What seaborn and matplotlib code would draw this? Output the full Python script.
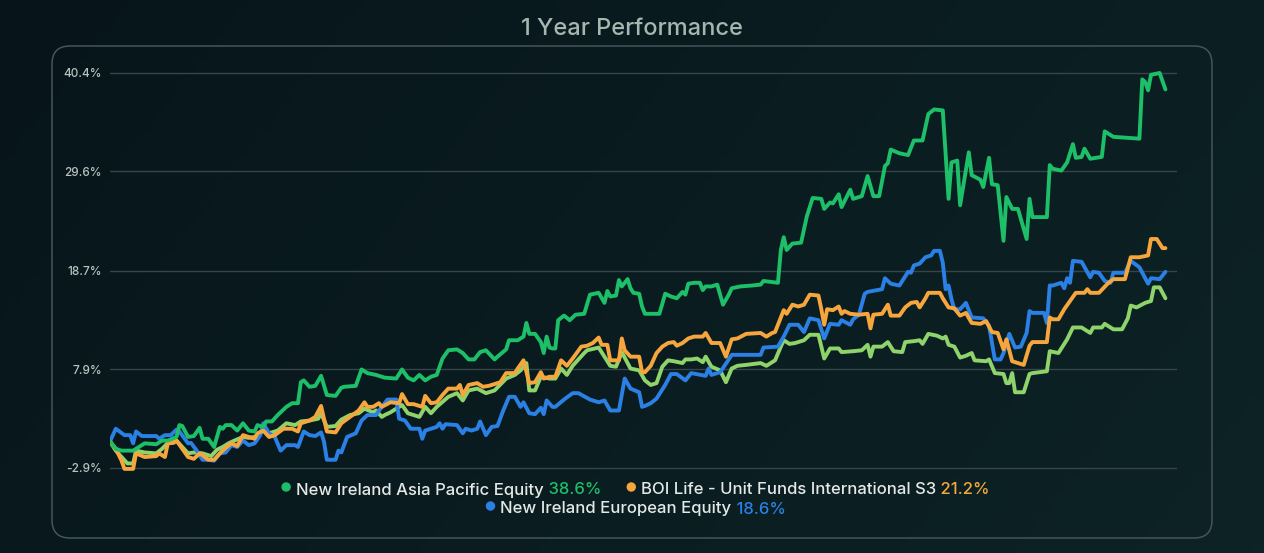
import matplotlib
matplotlib.use("Agg")
import matplotlib.pyplot as plt
from matplotlib.patches import FancyBboxPatch, Circle
from matplotlib.colors import LinearSegmentedColormap
import numpy as np
import pandas as pd
import seaborn as sns

# (calendar day, % return)
asia_pacific = [(0,0.0),(2,-0.8),(4,-1.0),(8,-1.0),(10,-0.6),(12,-0.2),(16,-0.3),(18,0.1),(20,0.1),(23,0.5),(24,1.8),(25,1.7),(27,0.5),(29,0.6),(31,1.5),(32,0.3),(34,0.3),(36,-0.6),(38,1.6),(39,1.4),(40,1.8),(42,1.8),(44,1.2),(46,2.0),(48,1.2),(50,1.1),(51,1.8),(53,1.6),(54,2.2),(56,2.2),(58,2.9),(61,3.8),(63,4.2),(65,4.2),(66,6.5),(67,6.7),(69,6.0),(71,6.1),(73,7.2),(75,5.1),(78,5.0),(80,5.9),(81,6.0),(85,6.1),(87,7.9),(89,7.5),(92,7.3),(95,7.0),(99,6.9),(101,7.9),(103,7.0),(105,6.7),(107,7.3),(109,6.7),(111,7.1),(113,7.3),(115,9.1),(117,10.0),(120,10.1),(122,9.7),(124,9.0),(126,9.0),(128,9.8),(130,10.0),(133,9.0),(134,9.3),(137,10.1),(138,11.1),(141,11.1),(143,11.5),(144,13.0),(145,11.8),(147,11.8),(149,10.9),(150,9.7),(151,11.5),(152,10.3),(153,10.2),(154,10.2),(155,13.3),(157,13.8),(159,13.3),(161,13.9),(164,14.0),(166,16.1),(169,16.3),(171,15.2),(172,16.5),(173,15.9),(175,16.0),(176,17.7),(177,17.0),(179,17.8),(180,16.8),(181,16.3),(183,16.2),(184,14.8),(185,14.0),(187,14.0),(190,14.0),(192,16.2),(194,15.9),(196,15.7),(198,16.4),(199,16.1),(200,17.3),(202,17.4),(204,17.4),(205,16.6),(206,17.0),(208,17.0),(210,17.2),(212,15.0),(214,16.1),(215,16.8),(218,17.0),(222,17.1),(225,17.2),(226,17.6),(231,17.4),(232,21.0),(233,22.4),(234,21.0),(236,21.7),(239,21.8),(241,24.7),(243,26.7),(246,26.6),(247,25.5),(249,26.2),(250,26.1),(252,27.1),(253,25.7),(256,27.6),(257,26.6),(260,26.9),(262,29.1),(264,26.9),(266,26.9),(268,30.2),(269,30.5),(270,32.0),(273,31.6),(276,31.4),(278,33.0),(281,33.0),(283,35.9),(285,36.4),(288,36.3),(290,26.6),(291,30.6),(293,30.8),(294,25.9),(297,31.7),(298,29.2),(301,28.7),(302,27.9),(304,31.1),(305,28.2),(307,28.1),(309,22.0),(310,26.8),(312,25.5),(314,25.5),(317,22.2),(318,26.6),(319,24.6),(324,24.6),(325,30.3),(326,29.9),(329,29.7),(331,30.6),(333,32.6),(334,31.1),(336,31.2),(337,32.1),(339,31.0),(343,31.2),(344,34.0),(347,33.4),(356,33.2),(357,39.7),(358,39.4),(359,38.5),(360,40.2),(363,40.4),(365,38.6)]

boi_international = [(0,0.0),(2,-0.8),(4,-2.1),(5,-3.0),(8,-3.0),(9,-1.3),(12,-1.7),(16,-1.6),(17,-1.3),(19,-1.7),(20,-0.2),(22,-0.15),(23,0.1),(25,-0.8),(27,-1.7),(29,-1.9),(31,-1.3),(32,-1.5),(34,-2.0),(36,-2.0),(38,-1.3),(40,-0.7),(42,-0.2),(44,-0.5),(46,0.7),(48,0.5),(50,0.3),(51,0.9),(53,1.2),(55,0.5),(57,0.7),(60,1.4),(63,1.4),(65,1.1),(66,2.0),(69,2.3),(71,2.7),(73,3.9),(75,1.1),(78,1.0),(80,2.0),(83,2.7),(86,3.4),(88,4.3),(89,3.8),(91,3.8),(93,4.2),(94,3.8),(97,4.3),(100,4.2),(101,5.2),(103,4.1),(105,4.1),(108,3.8),(109,5.0),(111,4.2),(113,4.3),(115,5.1),(117,5.8),(120,5.8),(121,6.2),(122,5.1),(124,6.2),(127,6.4),(129,6.0),(131,6.1),(135,6.5),(137,7.5),(140,7.5),(141,8.0),(143,8.9),(145,6.4),(147,6.5),(149,7.6),(150,6.9),(152,7.1),(154,7.1),(156,8.9),(158,8.3),(160,9.1),(163,10.4),(165,10.5),(167,10.8),(169,11.4),(170,10.6),(172,10.6),(173,8.9),(176,8.9),(177,11.3),(178,10.0),(180,9.3),(183,9.3),(184,7.6),(185,7.6),(187,8.3),(189,9.7),(191,10.4),(193,10.8),(195,10.9),(196,10.5),(198,10.8),(200,11.3),(202,11.5),(205,11.5),(206,11.9),(208,10.8),(211,10.8),(213,9.3),(215,11.2),(217,11.3),(220,11.8),(225,11.9),(227,11.5),(229,11.9),(230,12.0),(233,14.4),(234,14.0),(236,15.0),(238,14.8),(240,15.0),(242,16.1),(245,16.0),(246,14.5),(247,12.8),(248,14.5),(250,14.4),(252,14.8),(253,14.0),(254,14.3),(256,14.0),(259,13.9),(262,14.0),(263,12.4),(264,13.9),(267,14.0),(269,15.0),(270,13.8),(273,13.8),(275,14.7),(277,15.2),(279,15.3),(280,14.7),(282,15.7),(283,16.3),(287,16.3),(288,15.7),(290,14.7),(292,14.6),(294,13.8),(296,14.1),(298,13.0),(301,12.9),(303,13.2),(305,12.0),(307,11.9),(309,10.1),(310,11.2),(312,8.8),(314,8.6),(316,8.4),(318,10.5),(319,10.9),(324,10.9),(325,13.6),(326,13.4),(328,13.4),(330,14.5),(334,16.3),(337,16.3),(338,16.7),(339,16.3),(342,16.3),(345,17.3),(347,17.8),(351,17.8),(353,20.2),(356,20.2),(359,20.4),(360,22.2),(362,22.2),(364,21.2),(365,21.2)]

european = [(0,0.0),(2,1.4),(5,0.7),(7,0.7),(8,-0.2),(9,1.1),(11,0.6),(16,0.6),(17,0.3),(19,0.7),(21,0.7),(23,1.3),(24,1.1),(27,-0.2),(28,-0.15),(30,-1.0),(32,-2.0),(34,-2.0),(36,-2.1),(38,-1.3),(40,-1.2),(42,-0.4),(44,-0.6),(46,0.1),(48,-0.4),(50,-0.2),(52,0.7),(53,2.0),(55,0.9),(57,0.5),(59,-1.0),(61,-0.4),(64,-0.4),(65,-0.6),(67,1.1),(69,0.7),(71,0.6),(73,1.0),(74,0.0),(75,-2.0),(78,-2.0),(79,-1.0),(80,-1.2),(82,0.5),(85,0.9),(87,2.3),(89,2.9),(92,2.9),(93,3.4),(94,3.8),(96,4.6),(99,4.6),(100,2.5),(102,2.3),(104,1.4),(107,1.4),(108,0.3),(109,1.2),(111,1.4),(113,1.6),(114,2.0),(115,1.4),(116,1.9),(120,1.8),(122,0.9),(123,1.4),(125,1.2),(127,1.4),(128,2.2),(130,0.7),(132,1.6),(134,1.7),(136,3.4),(138,4.9),(140,4.9),(142,3.8),(143,4.3),(145,3.1),(147,3.0),(149,3.7),(150,3.0),(151,4.5),(153,3.8),(154,3.8),(157,4.6),(160,5.3),(162,5.3),(166,4.6),(169,4.3),(171,4.5),(173,3.4),(176,3.4),(178,6.9),(180,5.8),(183,5.4),(184,3.8),(185,3.9),(187,4.2),(189,4.7),(192,6.2),(194,7.4),(196,7.4),(199,6.7),(201,7.5),(206,7.2),(207,8.0),(208,7.3),(211,7.6),(214,9.0),(215,9.5),(218,9.5),(225,9.5),(226,10.3),(231,10.4),(233,11.5),(235,12.8),(238,12.8),(240,12.0),(242,13.5),(245,13.3),(247,11.3),(249,12.9),(252,12.8),(253,13.3),(256,12.8),(257,13.4),(259,13.9),(261,16.2),(262,16.4),(267,16.7),(268,17.9),(270,17.3),(273,17.1),(276,18.6),(277,18.5),(278,19.3),(280,19.5),(282,20.2),(284,20.4),(285,20.9),(287,20.9),(288,19.6),(289,16.7),(290,17.1),(291,15.6),(292,14.5),(294,14.5),(296,15.2),(298,13.6),(302,13.5),(304,12.7),(306,9.0),(308,9.0),(309,9.7),(311,11.8),(313,10.3),(315,10.4),(317,11.9),(318,14.3),(319,14.1),(323,14.1),(324,13.0),(325,17.1),(326,17.1),(329,17.4),(330,16.8),(331,17.9),(332,17.4),(333,19.8),(336,19.7),(339,18.0),(340,18.6),(342,18.5),(344,17.6),(346,17.4),(347,18.5),(351,18.5),(353,19.8),(356,19.1),(357,18.5),(359,17.3),(360,17.9),(363,17.8),(365,18.6)]

# light green line, not in the legend
benchmark = [(0,0.0),(2,-1.0),(4,-1.7),(6,-2.4),(8,-2.4),(9,-1.0),(12,-1.2),(16,-1.3),(18,-0.8),(20,-0.15),(23,0.1),(25,-0.6),(27,-1.3),(29,-1.2),(32,-1.3),(35,-1.6),(37,-0.9),(39,-0.6),(41,-0.2),(43,0.1),(46,0.5),(48,0.4),(50,0.5),(53,1.2),(55,0.9),(58,1.2),(61,2.0),(64,1.8),(66,2.2),(69,2.3),(72,2.5),(73,3.1),(75,1.6),(78,1.7),(80,2.4),(83,2.9),(86,3.1),(88,3.6),(91,3.2),(92,3.4),(94,2.7),(95,2.9),(97,3.2),(101,4.0),(103,3.1),(107,2.7),(109,3.8),(111,3.1),(113,3.8),(117,4.9),(120,5.3),(122,4.5),(124,5.6),(127,5.8),(130,5.3),(133,5.6),(137,6.9),(140,7.3),(142,7.8),(144,8.6),(145,5.6),(147,5.6),(149,7.1),(152,6.9),(154,6.9),(156,8.0),(158,7.3),(160,8.3),(164,9.7),(165,10.0),(169,10.3),(171,9.3),(173,8.3),(175,8.2),(177,9.8),(180,8.0),(183,7.8),(185,6.7),(187,6.2),(189,6.4),(191,8.2),(193,8.9),(195,8.8),(198,8.6),(199,9.0),(201,9.0),(203,9.1),(205,8.7),(206,9.3),(208,8.2),(211,7.8),(213,6.5),(215,8.0),(217,8.3),(220,8.4),(225,8.6),(227,8.3),(230,8.9),(232,10.4),(233,11.1),(235,10.7),(237,10.8),(240,11.1),(242,11.7),(245,11.7),(247,9.1),(249,10.2),(252,10.2),(253,9.8),(257,9.9),(260,10.0),(262,10.6),(263,9.3),(264,10.4),(267,10.4),(269,10.9),(271,9.9),(274,9.8),(275,10.9),(278,11.0),(280,11.1),(281,10.7),(283,11.8),(286,11.6),(288,11.3),(289,11.5),(290,10.6),(292,10.4),(294,9.2),(296,9.4),(298,9.7),(299,8.9),(303,8.8),(304,9.0),(306,7.5),(309,7.4),(310,6.4),(311,6.4),(312,7.5),(313,5.4),(316,5.4),(318,7.4),(319,7.5),(324,7.7),(325,9.9),(328,9.7),(331,11.2),(333,12.5),(336,12.5),(339,11.9),(340,12.5),(343,12.5),(344,12.9),(347,12.3),(350,12.3),(352,13.5),(353,14.9),(355,14.7),(358,15.2),(360,15.4),(361,16.9),(363,16.9),(365,15.7)]

fund_names = ["New Ireland Asia Pacific Equity", "BOI Life - Unit Funds International S3", "New Ireland European Equity"]
fund_returns = ["38.6%", "21.2%", "18.6%"]
y_ticks = [-2.9, 7.9, 18.7, 29.6, 40.4]

GREEN, ORANGE, BLUE, LIGHT = "#1dbf69", "#f7a63d", "#2a80e4", "#8fd36b"
BG = "#0a1a1e"

sns.set_theme(style="dark")
plt.rcParams['font.family'] = ['Inter', 'DejaVu Sans']

frames = []
for key, pts in [("bench", benchmark), ("euro", european), ("boi", boi_international), ("asia", asia_pacific)]:
    d = pd.DataFrame(pts, columns=["day", "ret"])
    d["fund"] = key
    frames.append(d)
df = pd.concat(frames, ignore_index=True)

fig = plt.figure(figsize=(12.64, 5.53), dpi=100)
fig.patch.set_facecolor(BG)

# pixel-space background layer: soft gradient, card, title and legend
bg = fig.add_axes([0, 0, 1, 1], zorder=0)
grad = LinearSegmentedColormap.from_list("bg", ["#07151a", "#0a1c20", "#0d2325"])
gx, gy = np.meshgrid(np.linspace(0, 1, 256), np.linspace(0, 1, 64))
bg.imshow(0.75 * gx + 0.25 * gy, cmap=grad, extent=(0, 1264, 553, 0), aspect="auto", zorder=0)
bg.set_xlim(0, 1264)
bg.set_ylim(553, 0)
bg.axis("off")
bg.add_patch(FancyBboxPatch((52, 46), 1160, 492, boxstyle="round,pad=0,rounding_size=18",
                            fc="none", ec="#45555a", lw=1.1, zorder=1))
bg.text(632, 29, "1 Year Performance", ha="center", va="center", fontsize=17,
        fontweight="medium", color="#a6b6b0")

ax = fig.add_axes([110/1264, 75/553, 1067/1264, 0.7588], zorder=1)
ax.set_facecolor("none")
sns.lineplot(data=df, x="day", y="ret", hue="fund", hue_order=["bench", "euro", "boi", "asia"],
             palette=[LIGHT, BLUE, ORANGE, GREEN], estimator=None, sort=False, lw=2.8,
             legend=False, ax=ax, solid_joinstyle="round")
ax.set_xlim(0, 369)
ax.set_ylim(-4, 42)
ax.set_xticks([])
ax.set_yticks(y_ticks)
ax.set_yticklabels([f"{v}%" for v in y_ticks])
ax.tick_params(axis="y", length=0, pad=6, labelsize=8.5, labelcolor="#b8c3c0")
for lab in ax.get_yticklabels():
    lab.set_fontweight("medium")
ax.grid(axis="y", color="#35454a", lw=1)
ax.grid(axis="x", visible=False)
ax.set_xlabel("")
ax.set_ylabel("")
for s in ax.spines.values():
    s.set_visible(False)

# legend: coloured dot, white name, coloured return
renderer = fig.canvas.get_renderer()
rows = [[(fund_names[0], fund_returns[0], GREEN), (fund_names[1], fund_returns[1], ORANGE)],
        [(fund_names[2], fund_returns[2], BLUE)]]
row_y = [490, 509]
gap = 26
for items, y in zip(rows, row_y):
    parts = []
    total = 0
    for name, pct, col in items:
        t1 = bg.text(0, y, name, fontsize=12, fontweight="medium", color="#e4e9e7", va="center")
        t2 = bg.text(0, y, " " + pct, fontsize=12, fontweight="medium", color=col, va="center")
        w1 = t1.get_window_extent(renderer).width
        w2 = t2.get_window_extent(renderer).width
        parts.append((t1, t2, w1, w2, col))
        total += 14 + w1 + w2
    total += gap * (len(items) - 1)
    x = 636 - total / 2
    for t1, t2, w1, w2, col in parts:
        bg.add_patch(Circle((x + 4, y - 3), 4, color=col, zorder=2))
        t1.set_x(x + 14)
        t2.set_x(x + 14 + w1)
        x += 14 + w1 + w2 + gap

fig.savefig("out.png", dpi=100, facecolor=BG)
